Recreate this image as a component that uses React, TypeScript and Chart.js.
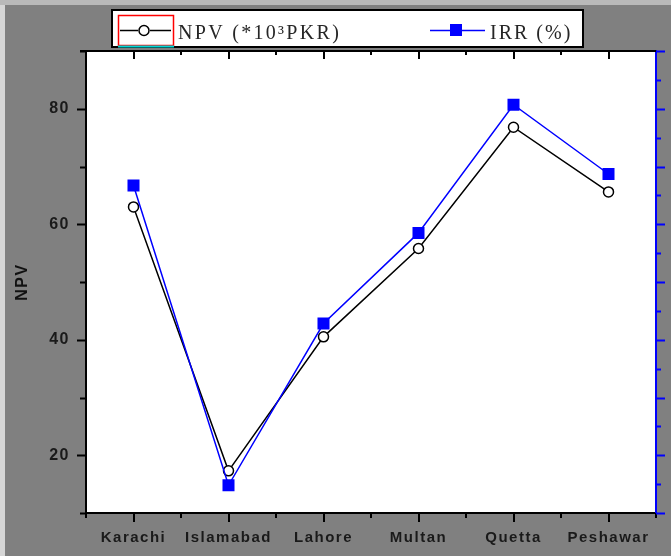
import React, { useEffect, useRef } from "react";
import { Chart, registerables } from "chart.js";

Chart.register(...registerables);

const categories = ["Karachi", "Islamabad", "Lahore", "Multan", "Quetta", "Peshawar"];
const npvValues = [63, 17.3, 40.5, 55.8, 76.8, 65.6];
const irrValues = [66.7, 14.8, 42.8, 58.5, 80.7, 68.7];
const npvLabel = "NPV (*10³PKR)";
const irrLabel = "IRR (%)";
const yTitle = "NPV";
const yMin = 10;
const yMax = 90;
const yMajorTicks = [20, 40, 60, 80];
const yMinorTicks = [10, 30, 50, 70, 90];
const y2MajorTicks = [10, 20, 30, 40, 50, 60, 70, 80, 90];
const y2MinorTicks = [15, 25, 35, 45, 55, 65, 75, 85];

const SANS = '"Liberation Sans", Arial, sans-serif';
const SERIF = '"Liberation Serif", "Times New Roman", serif';

function seg(ctx: CanvasRenderingContext2D, x1: number, y1: number, x2: number, y2: number) {
  ctx.beginPath();
  ctx.moveTo(x1, y1);
  ctx.lineTo(x2, y2);
  ctx.stroke();
}

const framePlugin = {
  id: "frame",
  beforeDraw(chart: any) {
    const { ctx, width, height, chartArea: a } = chart;
    ctx.save();
    ctx.fillStyle = "#808080";
    ctx.fillRect(0, 0, width, height);
    ctx.fillStyle = "#b9b9b9";
    ctx.fillRect(0, 0, width, 5);
    ctx.fillStyle = "#d6d6d6";
    ctx.fillRect(0, 5, 5, height - 5);
    ctx.fillStyle = "#ffffff";
    ctx.fillRect(a.left, a.top, a.right - a.left, a.bottom - a.top);
    ctx.restore();
    ctx.letterSpacing = "1.5px";
  },
  afterDraw(chart: any) {
    const { ctx, chartArea: a, scales } = chart;
    const xs = scales.x;
    const ys = scales.y;
    const y2s = scales.y2;
    ctx.save();
    ctx.letterSpacing = "0px";
    ctx.lineWidth = 2;
    ctx.strokeStyle = "#000000";
    // top frame line
    seg(ctx, a.left - 6, a.top, a.right, a.top);
    // left axis ticks (outward)
    yMajorTicks.forEach((v) => {
      const p = Math.round(ys.getPixelForValue(v)) + 0.5;
      seg(ctx, a.left - 9, p, a.left, p);
    });
    yMinorTicks.forEach((v) => {
      const p = Math.round(ys.getPixelForValue(v)) + 0.5;
      seg(ctx, a.left - 6, p, a.left, p);
    });
    // bottom (outward) and top (inward) ticks
    categories.forEach((_, i) => {
      const p = Math.round(xs.getPixelForValue(i));
      seg(ctx, p, a.bottom, p, a.bottom + 9);
      seg(ctx, p, a.top, p, a.top + 8);
    });
    for (let i = 0; i <= categories.length; i++) {
      const p = Math.round(xs.getPixelForValue(i - 0.5));
      seg(ctx, p, a.bottom, p, a.bottom + 5);
      if (i > 0 && i < categories.length) seg(ctx, p, a.top, p, a.top + 4);
    }
    // right axis ticks (blue, outward)
    ctx.strokeStyle = "#0000ff";
    y2MajorTicks.forEach((v) => {
      const p = Math.round(y2s.getPixelForValue(v)) + 0.5;
      seg(ctx, a.right, p, a.right + 9, p);
    });
    y2MinorTicks.forEach((v) => {
      const p = Math.round(y2s.getPixelForValue(v)) + 0.5;
      seg(ctx, a.right, p, a.right + 5, p);
    });

    // legend
    const ds = chart.data.datasets;
    ctx.fillStyle = "#ffffff";
    ctx.fillRect(112, 10, 471, 37);
    ctx.strokeStyle = "#000000";
    ctx.lineWidth = 2;
    ctx.strokeRect(112, 10, 471, 37);
    // selection box around first entry
    ctx.strokeStyle = "#ff0000";
    ctx.lineWidth = 1.5;
    ctx.strokeRect(118.5, 15.5, 55, 30);
    ctx.strokeStyle = "#00d8d8";
    ctx.lineWidth = 2;
    seg(ctx, 118, 46.5, 174, 46.5);
    // entry 1 sample
    ctx.strokeStyle = ds[0].borderColor;
    ctx.lineWidth = 1.5;
    seg(ctx, 120, 30.5, 138, 30.5);
    seg(ctx, 150, 30.5, 171, 30.5);
    ctx.beginPath();
    ctx.arc(144, 30.5, 5, 0, Math.PI * 2);
    ctx.fillStyle = "#ffffff";
    ctx.fill();
    ctx.stroke();
    // entry 2 sample
    ctx.strokeStyle = ds[1].borderColor;
    seg(ctx, 430, 30.5, 485, 30.5);
    ctx.fillStyle = ds[1].pointBackgroundColor;
    ctx.fillRect(450, 24, 12, 12);
    // texts
    ctx.fillStyle = "#262626";
    ctx.font = `20px ${SERIF}`;
    ctx.textBaseline = "alphabetic";
    ctx.textAlign = "left";
    ctx.letterSpacing = "2.3px";
    ctx.fillText(ds[0].label, 178, 39);
    ctx.letterSpacing = "2px";
    ctx.fillText(ds[1].label, 490, 39);
    ctx.restore();
    ctx.letterSpacing = "0px";
  },
};

export default function App() {
  const canvasRef = useRef<HTMLCanvasElement | null>(null);

  useEffect(() => {
    if (!canvasRef.current) return;
    const chart = new Chart(canvasRef.current, {
      type: "line",
      data: {
        labels: categories,
        datasets: [
          {
            label: npvLabel,
            data: npvValues,
            yAxisID: "y",
            borderColor: "#000000",
            borderWidth: 1.5,
            pointStyle: "circle",
            pointRadius: 5,
            pointBackgroundColor: "#ffffff",
            pointBorderColor: "#000000",
            pointBorderWidth: 1.5,
            tension: 0,
            order: 1,
          },
          {
            label: irrLabel,
            data: irrValues,
            yAxisID: "y2",
            borderColor: "#0000ff",
            borderWidth: 1.5,
            pointStyle: "rect",
            pointRadius: 8.5,
            pointBackgroundColor: "#0000ff",
            pointBorderColor: "#0000ff",
            pointBorderWidth: 0,
            tension: 0,
            order: 0,
          },
        ],
      },
      options: {
        responsive: false,
        animation: false,
        devicePixelRatio: 1,
        layout: { padding: { top: 51, left: 0, right: 0, bottom: 0 } },
        plugins: {
          legend: { display: false },
          tooltip: { enabled: false },
        },
        scales: {
          x: {
            type: "category",
            offset: true,
            grid: { display: false, drawTicks: false },
            border: { display: true, color: "#000000", width: 2 },
            ticks: {
              font: { family: SANS, size: 15, weight: "bold" },
              color: "#1a1a1a",
              padding: 16,
              maxRotation: 0,
              autoSkip: false,
            },
            afterFit(s: any) {
              s.height = 43;
            },
          },
          y: {
            position: "left",
            min: yMin,
            max: yMax,
            afterBuildTicks(s: any) {
              s.ticks = yMajorTicks.map((v) => ({ value: v }));
            },
            grid: { display: false, drawTicks: false },
            border: { display: true, color: "#000000", width: 2 },
            ticks: {
              font: { family: SANS, size: 16, weight: "bold" },
              color: "#1a1a1a",
              padding: 16,
            },
            title: {
              display: true,
              text: yTitle,
              font: { family: SANS, size: 16, weight: "bold" },
              color: "#111111",
              padding: { top: 13, bottom: 0 },
            },
            afterFit(s: any) {
              s.width = 86;
            },
          },
          y2: {
            position: "right",
            min: yMin,
            max: yMax,
            grid: { display: false, drawTicks: false },
            border: { display: true, color: "#0000ff", width: 2 },
            ticks: { display: false },
            afterFit(s: any) {
              s.width = 15;
            },
          },
        },
      },
      plugins: [framePlugin],
    } as any);
    return () => chart.destroy();
  }, []);

  return (
    <div style={{ position: "fixed", left: 0, top: 0, width: 671, height: 556 }}>
      <canvas ref={canvasRef} width={671} height={556} style={{ display: "block" }} />
    </div>
  );
}
